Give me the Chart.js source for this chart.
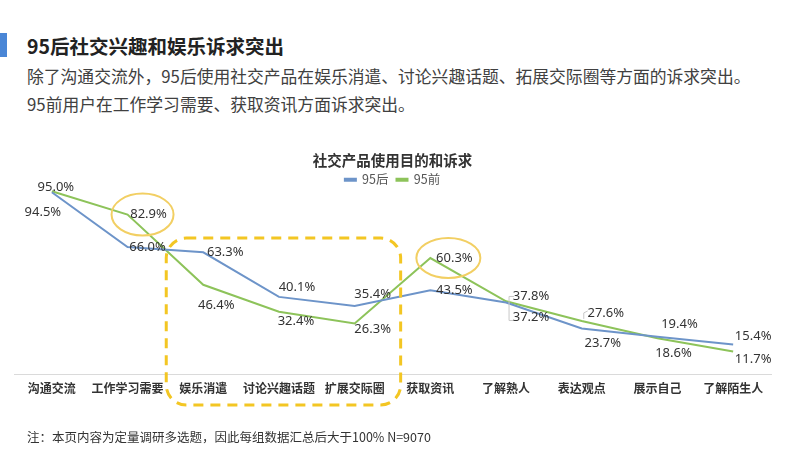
<!DOCTYPE html>
<html>
<head>
<meta charset="utf-8">
<script src="https://cdn.jsdelivr.net/npm/chart.js@4/dist/chart.umd.min.js"></script>
<style>
    body { margin: 0; background: #fff; font-family: "Noto Sans CJK SC", "Noto Sans", sans-serif; }
    #page { position: relative; width: 800px; height: 450px; overflow: hidden; }
    #bar { position: absolute; left: 0; top: 33px; width: 7px; height: 24px; background: #4a86d6; }
    #title { position: absolute; left: 27px; top: 31px; font-size: 19.5px; font-weight: bold; color: #222; }
    .sub { position: absolute; left: 27px; font-size: 16.8px; color: #404040; white-space: nowrap; }
    #note { position: absolute; left: 27px; top: 427px; font-size: 12.5px; color: #333; }
    canvas { position: absolute; left: 0; top: 0; }
</style>
</head>
<body>
<div id="page">
    <div id="bar"></div>
    <div id="title">95后社交兴趣和娱乐诉求突出</div>
    <div class="sub" style="top:64px">除了沟通交流外，95后使用社交产品在娱乐消遣、讨论兴趣话题、拓展交际圈等方面的诉求突出。</div>
    <div class="sub" style="top:92px">95前用户在工作学习需要、获取资讯方面诉求突出。</div>
    <canvas id="chart" width="800" height="450"></canvas>
    <div id="note">注：本页内容为定量调研多选题，因此每组数据汇总后大于100% N=9070</div>
</div>
<script>
// Data
const categories = ['沟通交流', '工作学习需要', '娱乐消遣', '讨论兴趣话题', '扩展交际圈', '获取资讯', '了解熟人', '表达观点', '展示自己', '了解陌生人'];
const after95 = [94.5, 66.0, 63.3, 40.1, 35.4, 43.5, 37.2, 23.7, 19.4, 15.4];
const before95 = [95.0, 82.9, 46.4, 32.4, 26.3, 60.3, 37.8, 27.6, 18.6, 11.7];

// label offsets from each point (px)
const after95Offsets = [[-9, 20], [20, 0], [22, 0], [18, -10], [18, -12], [24, 0], [25, 15], [21, 15], [22, -12], [20, -8]];
const before95Offsets = [[4, -4], [21, 0], [13, 21], [17, 10], [18, 6], [24, 0], [25, -5], [24, -8], [16, 15], [20, 8]];

const BLUE = '#6d94c9';
const GREEN = '#8dc35a';
const YELLOW = '#f3c623';

// shrink the legend box so the plot starts right under it
const legendFit = {
    id: 'legendFit',
    beforeInit(chart) {
        const fit = chart.legend.fit;
        chart.legend.fit = function () {
            fit.bind(chart.legend)();
            this.height = 24;
        };
    }
};

// Data labels + highlight marks
const labelPlugin = {
    id: 'labels',
    afterDatasetsDraw(chart) {
        const ctx = chart.ctx;
        const offsets = [after95Offsets, before95Offsets];
        const green = chart.getDatasetMeta(1).data;
        const blue = chart.getDatasetMeta(0).data;
        const xs = chart.scales.x;

        ctx.save();
        // ellipses
        ctx.strokeStyle = '#f2cf63';
        ctx.lineWidth = 2;
        [[1, 15, 31, 21], [5, 18, 32, 20]].forEach(([i, dx, rx, ry]) => {
            ctx.beginPath();
            ctx.ellipse(green[i].x + dx, green[i].y, rx, ry, 0, 0, Math.PI * 2);
            ctx.stroke();
        });
        // dashed box round 娱乐消遣..扩展交际圈
        const left = xs.getPixelForValue(2) - 37;
        const right = xs.getPixelForValue(4) + 46;
        const top = blue[1].y - 9;
        const bottom = 405;
        ctx.strokeStyle = YELLOW;
        ctx.lineWidth = 3;
        ctx.setLineDash([10, 7]);
        ctx.beginPath();
        ctx.roundRect(left, top, right - left, bottom - top, 20);
        ctx.stroke();
        ctx.setLineDash([]);

        // small leader brackets
        ctx.strokeStyle = '#c8c8c8';
        ctx.lineWidth = 1;
        ctx.beginPath();
        ctx.moveTo(blue[6].x + 8, blue[6].y - 6);
        ctx.lineTo(blue[6].x + 3, blue[6].y - 6);
        ctx.lineTo(blue[6].x + 3, blue[6].y + 18);
        ctx.lineTo(blue[6].x + 8, blue[6].y + 18);
        ctx.moveTo(green[7].x + 6, green[7].y - 10);
        ctx.lineTo(green[7].x + 2, green[7].y - 8);
        ctx.lineTo(green[7].x + 2, green[7].y - 2);
        ctx.stroke();

        // value labels
        ctx.font = '13px "Noto Sans", sans-serif';
        ctx.fillStyle = '#333';
        ctx.textAlign = 'center';
        ctx.textBaseline = 'middle';
        chart.data.datasets.forEach((ds, d) => {
            chart.getDatasetMeta(d).data.forEach((pt, i) => {
                const [dx, dy] = offsets[d][i];
                ctx.fillText(ds.data[i].toFixed(1) + '%', pt.x + dx, pt.y + dy);
            });
        });
        ctx.restore();
    }
};

const ctx = document.getElementById('chart').getContext('2d');
new Chart(ctx, {
    type: 'line',
    data: {
        labels: categories,
        datasets: [
            { label: '95后', data: after95, borderColor: BLUE, backgroundColor: BLUE, borderWidth: 2, pointRadius: 0, tension: 0, clip: false },
            { label: '95前', data: before95, borderColor: GREEN, backgroundColor: GREEN, borderWidth: 2, pointRadius: 0, tension: 0, clip: false }
        ]
    },
    options: {
        responsive: false,
        animation: false,
        layout: { padding: { top: 147, left: 14, right: 29, bottom: 41 } },
        plugins: {
            title: {
                display: true,
                text: '社交产品使用目的和诉求',
                color: '#333',
                font: { size: 14.5, weight: 'bold', family: '"Noto Sans CJK SC", sans-serif' },
                padding: { top: 5, bottom: -4 }
            },
            legend: {
                labels: {
                    boxWidth: 11,
                    boxHeight: 2,
                    padding: 8,
                    color: '#555',
                    font: { size: 12.5, family: '"Noto Sans CJK SC", sans-serif' }
                }
            },
            tooltip: { enabled: false }
        },
        scales: {
            x: {
                offset: true,
                grid: { display: false, drawTicks: false },
                border: { color: '#dadada', width: 1 },
                ticks: {
                    color: '#333',
                    padding: 7,
                    maxRotation: 0,
                    font: { size: 12, weight: 'bold', family: '"Noto Sans CJK SC", sans-serif' }
                },
                afterFit(scale) { scale.height = 35; }
            },
            y: { display: false, min: 0, max: 96 }
        }
    },
    plugins: [legendFit, labelPlugin]
});
</script>
</body>
</html>
